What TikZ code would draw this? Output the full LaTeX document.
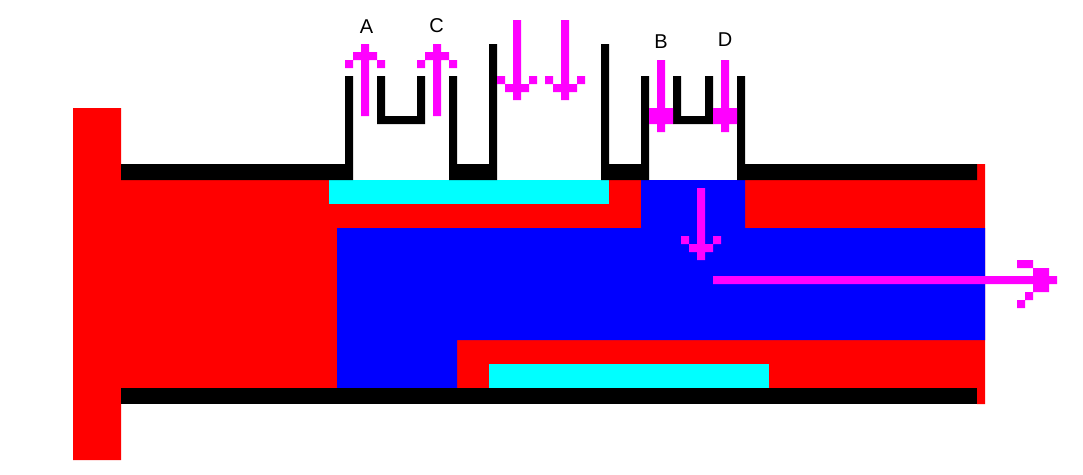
\documentclass[tikz,border=0pt]{standalone}
\usepackage{fontspec}
\setmainfont{Liberation Sans}
\definecolor{pxred}{HTML}{FF0000}
\definecolor{pxblue}{HTML}{0000FF}
\definecolor{pxcyan}{HTML}{00FFFF}
\definecolor{pxmag}{HTML}{FF00FF}
\tikzset{
  redfill/.style={fill=pxred,draw=none},
  bluefill/.style={fill=pxblue,draw=none},
  cyanfill/.style={fill=pxcyan,draw=none},
  blackfill/.style={fill=black,draw=none},
  arrowfill/.style={fill=pxmag,draw=none},
  lab/.style={font=\fontsize{20}{20}\selectfont,anchor=base,inner sep=0pt,text=black}
}
\begin{document}
\begin{tikzpicture}[x=1pt,y=-1pt]
\useasboundingbox (0,0) rectangle (1083,474);
\fill[white] (0,0) rectangle (1083,474);
% red body
\path[redfill] (73,108) -- (121,108) -- (121,180) -- (977,180) -- (977,164) -- (985,164)
  -- (985,404) -- (977,404) -- (977,388) -- (121,388) -- (121,460) -- (73,460) -- cycle;
% blue channel
\path[bluefill] (641,180) -- (745,180) -- (745,228) -- (985,228) -- (985,340) -- (457,340) -- (457,388) -- (337,388) -- (337,228) -- (641,228) -- cycle;
% cyan lands
\path[cyanfill] (329,180) rectangle (609,204);
\path[cyanfill] (489,364) rectangle (769,388);
% black casing
\path[blackfill] (121,388) rectangle (977,404);
\path[blackfill] (121,164) -- (345,164) -- (345,76) -- (353,76) -- (353,180) -- (121,180) -- cycle;
\path[blackfill] (449,76) -- (457,76) -- (457,164) -- (489,164) -- (489,44) -- (497,44) -- (497,180) -- (449,180) -- cycle;
\path[blackfill] (601,44) -- (609,44) -- (609,164) -- (641,164) -- (641,76) -- (649,76) -- (649,180) -- (601,180) -- cycle;
\path[blackfill] (737,76) -- (745,76) -- (745,164) -- (977,164) -- (977,180) -- (737,180) -- cycle;
\path[blackfill] (377,76) -- (385,76) -- (385,116) -- (417,116) -- (417,76) -- (425,76) -- (425,124) -- (377,124) -- cycle;
\path[blackfill] (673,76) -- (681,76) -- (681,116) -- (705,116) -- (705,76) -- (713,76) -- (713,124) -- (673,124) -- cycle;
% arrow A
\path[arrowfill] (361,44) rectangle (369,116) (353,52) rectangle (377,60) (345,60) rectangle (353,68) (377,60) rectangle (385,68);
% arrow C
\path[arrowfill] (433,44) rectangle (441,116) (425,52) rectangle (449,60) (417,60) rectangle (425,68) (449,60) rectangle (457,68);
% two inlet arrows
\path[arrowfill] (513,20) rectangle (521,100) (505,84) rectangle (529,92) (497,76) rectangle (505,84) (529,76) rectangle (537,84);
\path[arrowfill] (561,20) rectangle (569,100) (553,84) rectangle (577,92) (545,76) rectangle (553,84) (577,76) rectangle (585,84);
% arrow B and D
\path[arrowfill] (657,60) rectangle (665,132) (649,108) rectangle (673,124);
\path[arrowfill] (721,60) rectangle (729,132) (713,108) rectangle (737,124);
% arrow in blue
\path[arrowfill] (697,188) rectangle (705,260) (689,244) rectangle (713,252) (681,236) rectangle (689,244) (713,236) rectangle (721,244);
% long outlet arrow
\path[arrowfill] (713,276) rectangle (1057,284) (1033,268) rectangle (1049,292) (1017,260) rectangle (1033,268) (1025,292) rectangle (1033,300) (1017,300) rectangle (1025,308);
% labels
\node[lab] (labA) at (366.5,33.5) {A};
\node[lab] (labC) at (436.5,32.5) {C};
\node[lab] (labB) at (661,48.5) {B};
\node[lab] (labD) at (725,46.5) {D};
\end{tikzpicture}
\end{document}
